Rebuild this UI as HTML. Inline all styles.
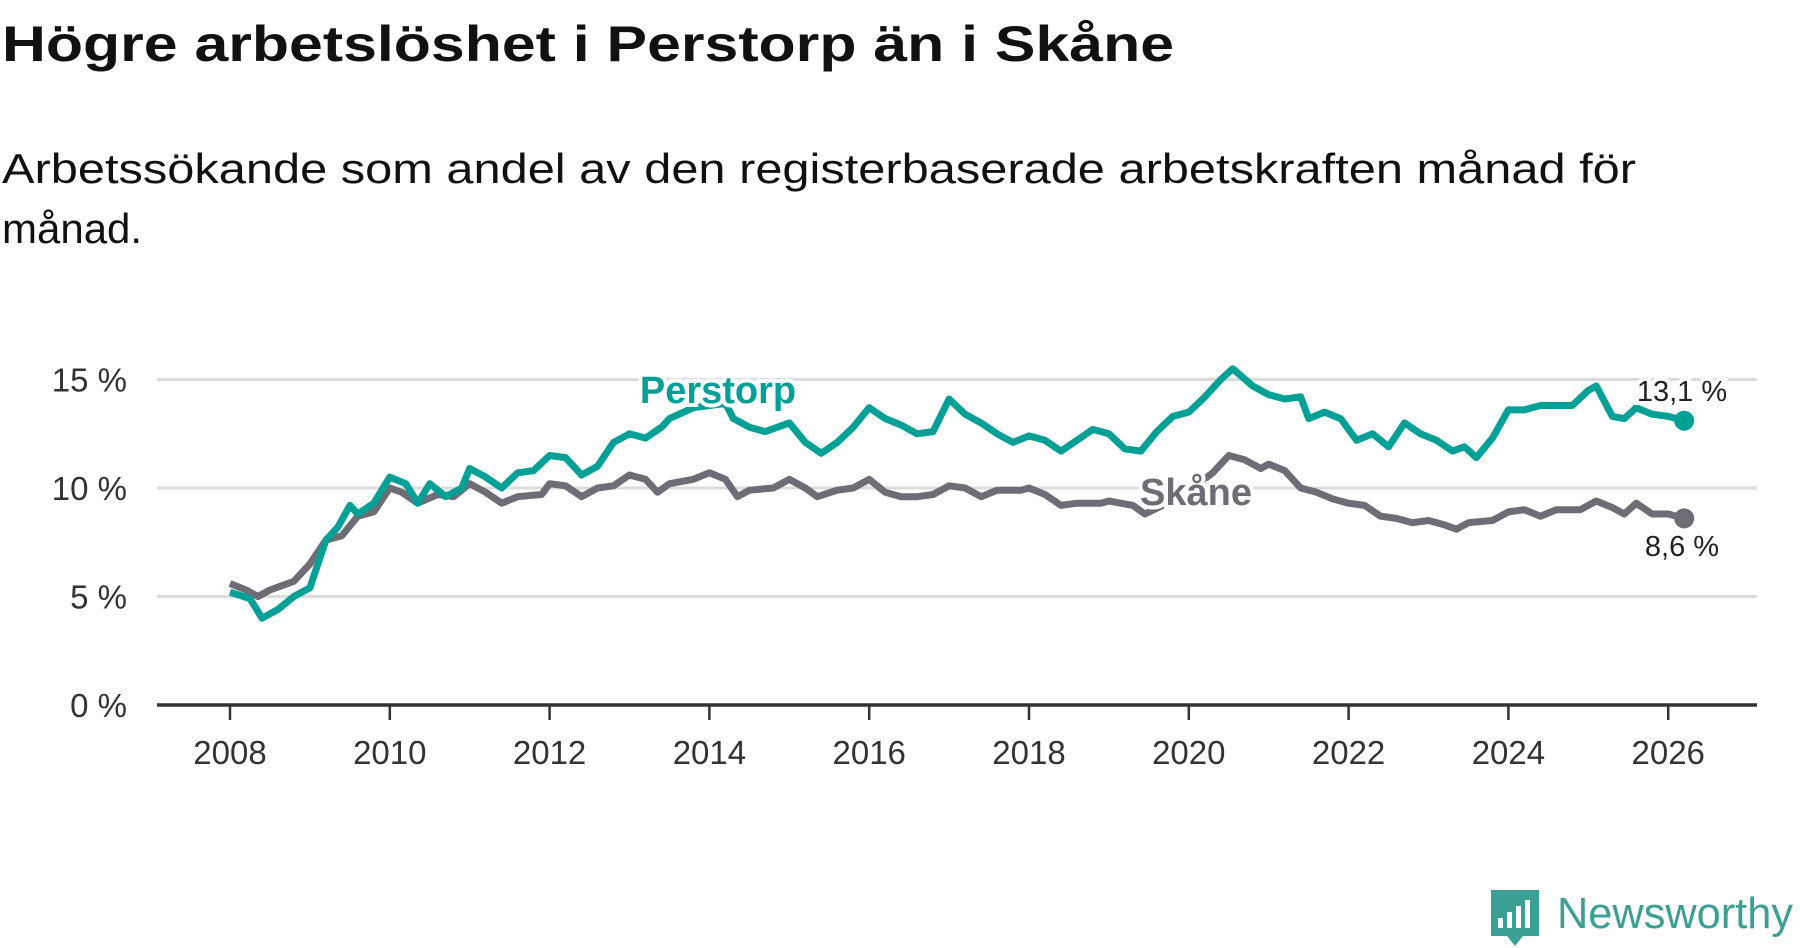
<!DOCTYPE html>
<html><head><meta charset="utf-8"><style>
html,body{margin:0;padding:0;background:#fff;}
svg{display:block;font-family:"Liberation Sans",sans-serif;}
</style></head><body>
<svg id="chart" width="1800" height="948" viewBox="0 0 1800 948" xmlns="http://www.w3.org/2000/svg">
<text x="2" y="61" font-size="50" font-weight="bold" fill="#111" textLength="1172" lengthAdjust="spacingAndGlyphs">Högre arbetslöshet i Perstorp än i Skåne</text>
<text x="2" y="183" font-size="42" fill="#111" textLength="1634" lengthAdjust="spacingAndGlyphs">Arbetssökande som andel av den registerbaserade arbetskraften månad för</text>
<text x="2" y="243" font-size="42" fill="#111">månad.</text>
<g id="grid"></g>
<g id="series"></g>
<g id="labels"></g>
<g>
  <path d="M1491 890 h48 v46 h-16 l-8 10 l-8 -10 h-16 z" fill="#3c9f94"/>
  <rect x="1498" y="918" width="5" height="10" fill="#fff"/>
  <rect x="1507" y="912" width="5" height="16" fill="#fff"/>
  <rect x="1516" y="906" width="5" height="22" fill="#fff"/>
  <rect x="1525" y="900" width="5" height="28" fill="#fff"/>
  <text x="1557" y="928" font-size="44" fill="#3c9f94" textLength="236" lengthAdjust="spacingAndGlyphs">Newsworthy</text>
</g>
</svg>
<script>
const yTicks = [0, 5, 10, 15];
const yTickLabels = ["0 %", "5 %", "10 %", "15 %"];
const xTicks = [2008, 2010, 2012, 2014, 2016, 2018, 2020, 2022, 2024, 2026];
const perstorpDates = [2008.0,2008.25,2008.4,2008.6,2008.8,2009.0,2009.2,2009.35,2009.5,2009.6,2009.8,2010.0,2010.2,2010.35,2010.5,2010.7,2010.9,2011.0,2011.2,2011.4,2011.6,2011.8,2012.0,2012.2,2012.4,2012.6,2012.8,2013.0,2013.2,2013.4,2013.5,2013.8,2014.0,2014.2,2014.3,2014.5,2014.7,2015.0,2015.2,2015.4,2015.6,2015.8,2016.0,2016.2,2016.4,2016.6,2016.8,2017.0,2017.2,2017.4,2017.6,2017.8,2018.0,2018.2,2018.4,2018.6,2018.8,2019.0,2019.2,2019.4,2019.6,2019.8,2020.0,2020.2,2020.4,2020.55,2020.8,2021.0,2021.2,2021.4,2021.5,2021.7,2021.9,2022.1,2022.3,2022.5,2022.7,2022.9,2023.1,2023.3,2023.45,2023.6,2023.8,2024.0,2024.2,2024.4,2024.6,2024.8,2025.0,2025.1,2025.3,2025.45,2025.6,2025.8,2026.0,2026.2];
const perstorpValues = [5.2,4.9,4.0,4.4,5.0,5.4,7.6,8.2,9.2,8.8,9.3,10.5,10.2,9.3,10.2,9.6,10.0,10.9,10.5,10.0,10.7,10.8,11.5,11.4,10.6,11.0,12.1,12.5,12.3,12.8,13.2,13.7,13.8,13.9,13.2,12.8,12.6,13.0,12.1,11.6,12.1,12.8,13.7,13.2,12.9,12.5,12.6,14.1,13.4,13.0,12.5,12.1,12.4,12.2,11.7,12.2,12.7,12.5,11.8,11.7,12.6,13.3,13.5,14.2,15.0,15.5,14.7,14.3,14.1,14.2,13.2,13.5,13.2,12.2,12.5,11.9,13.0,12.5,12.2,11.7,11.9,11.4,12.3,13.6,13.6,13.8,13.8,13.8,14.5,14.7,13.3,13.2,13.7,13.4,13.3,13.1];
const skaneDates = [2008.0,2008.2,2008.35,2008.5,2008.8,2009.0,2009.2,2009.4,2009.6,2009.8,2010.0,2010.15,2010.35,2010.6,2010.8,2011.0,2011.2,2011.4,2011.6,2011.9,2012.0,2012.2,2012.4,2012.6,2012.8,2013.0,2013.2,2013.35,2013.5,2013.8,2014.0,2014.2,2014.35,2014.5,2014.8,2015.0,2015.2,2015.35,2015.6,2015.8,2016.0,2016.2,2016.4,2016.6,2016.8,2017.0,2017.2,2017.4,2017.6,2017.9,2018.0,2018.2,2018.4,2018.6,2018.9,2019.0,2019.3,2019.45,2019.9,2020.3,2020.5,2020.7,2020.9,2021.0,2021.2,2021.4,2021.6,2021.8,2022.0,2022.2,2022.4,2022.6,2022.8,2023.0,2023.2,2023.35,2023.5,2023.8,2024.0,2024.2,2024.4,2024.6,2024.9,2025.1,2025.3,2025.45,2025.6,2025.8,2026.0,2026.2];
const skaneValues = [5.6,5.3,5.0,5.3,5.7,6.5,7.6,7.8,8.7,8.9,10.0,9.8,9.3,9.7,9.6,10.2,9.8,9.3,9.6,9.7,10.2,10.1,9.6,10.0,10.1,10.6,10.4,9.8,10.2,10.4,10.7,10.4,9.6,9.9,10.0,10.4,10.0,9.6,9.9,10.0,10.4,9.8,9.6,9.6,9.7,10.1,10.0,9.6,9.9,9.9,10.0,9.7,9.2,9.3,9.3,9.4,9.2,8.8,9.6,10.7,11.5,11.3,10.9,11.1,10.8,10.0,9.8,9.5,9.3,9.2,8.7,8.6,8.4,8.5,8.3,8.1,8.4,8.5,8.9,9.0,8.7,9.0,9.0,9.4,9.1,8.8,9.3,8.8,8.8,8.6];

const NS = "http://www.w3.org/2000/svg";
const X0 = 230, XPY = 79.9, Y0 = 705, YPU = 21.7;
function xs(t){ return X0 + (t - 2008) * XPY; }
function ys(v){ return Y0 - v * YPU; }
function mk(tag, attrs, parent){
  const el = document.createElementNS(NS, tag);
  for (const k in attrs) el.setAttribute(k, attrs[k]);
  parent.appendChild(el); return el;
}
const grid = document.getElementById('grid');
yTicks.forEach((v, i) => {
  if (v !== 0) {
    const l = mk('line', {x1:157, x2:1757, y1:ys(v), y2:ys(v), stroke:'#dcdcdc', 'stroke-width':3}, grid);
    
    
  }
  const t = mk('text', {x:127, y:ys(v)+12, 'text-anchor':'end', 'font-size':33, fill:'#333'}, grid);
  t.textContent = yTickLabels[i];
  
  
});
const ax = mk('line', {x1:157, x2:1757, y1:Y0, y2:Y0, stroke:'#333', 'stroke-width':3.5}, grid);


xTicks.forEach(t => {
  const tk = mk('line', {x1:xs(t), x2:xs(t), y1:Y0, y2:Y0+15, stroke:'#333', 'stroke-width':2.5}, grid);
  
  
  const tl = mk('text', {x:xs(t), y:764, 'text-anchor':'middle', 'font-size':33, fill:'#333'}, grid);
  tl.textContent = String(t);
  
  
});
const series = document.getElementById('series');
function drawLine(dates, vals, color, name){
  const d = dates.map((t, i) => (i ? 'L' : 'M') + xs(t).toFixed(1) + ' ' + ys(vals[i]).toFixed(1)).join(' ');
  const p = mk('path', {d:d, fill:'none', stroke:color, 'stroke-width':7, 'stroke-linejoin':'round'}, series);
  
  
  const n = dates.length - 1;
  const c = mk('circle', {cx:xs(dates[n]), cy:ys(vals[n]), r:10, fill:color}, series);
  
  
}
drawLine(skaneDates, skaneValues, '#6e6d75', 'skane');
drawLine(perstorpDates, perstorpValues, '#00a096', 'perstorp');
const labels = document.getElementById('labels');
function lab(txt, x, y, size, color, bold, name){
  const t = mk('text', {x:x, y:y, 'text-anchor':'middle', 'font-size':size, fill:color, stroke:'#fff', 'stroke-width':8, 'paint-order':'stroke', 'font-weight':bold?'bold':'normal'}, labels);
  t.textContent = txt;
  
  
}
lab('Perstorp', 718, 403, 38, '#00a096', true, 'perstorp-label');
lab('Skåne', 1196, 505, 38, '#6e6d75', true, 'skane-label');
lab('13,1 %', 1682, 401, 29, '#222', false, 'perstorp-end-value');
lab('8,6 %', 1682, 556, 29, '#222', false, 'skane-end-value');
</script>
</body></html>
